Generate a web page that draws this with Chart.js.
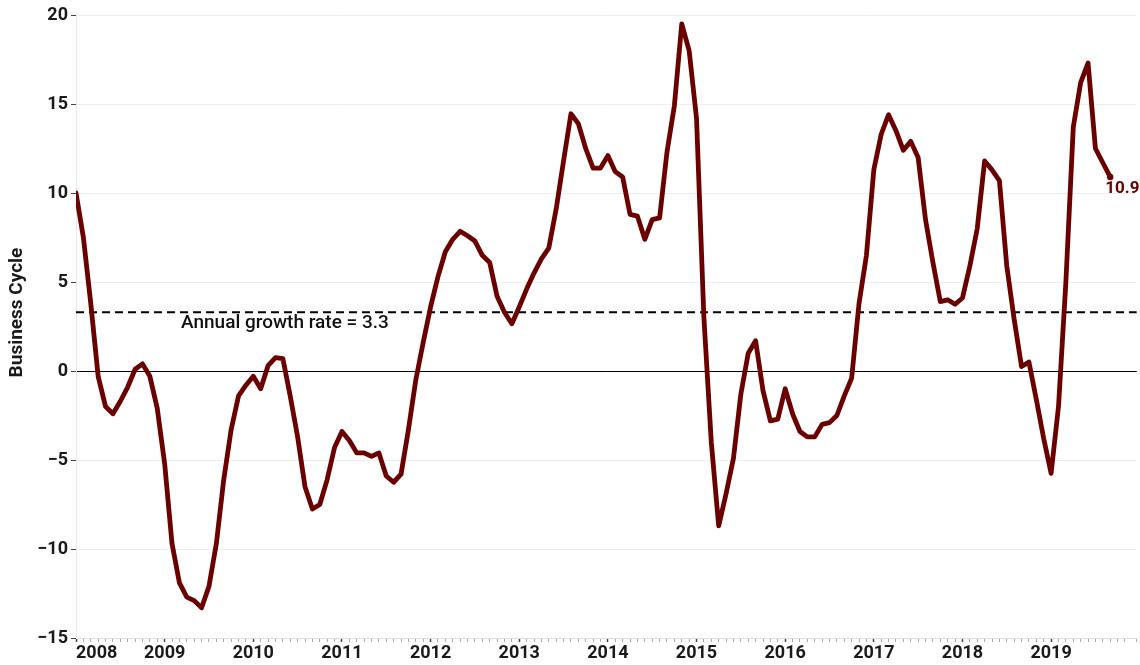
<!DOCTYPE html>
<html>
<head>
<meta charset="utf-8">
<script src="https://cdn.jsdelivr.net/npm/chart.js@4.4.1/dist/chart.umd.min.js"></script>
<style>
  html, body { margin: 0; padding: 0; background: #ffffff; }
  #wrap { width: 1140px; height: 665px; }
</style>
</head>
<body>
<div id="wrap"><canvas id="c" width="1140" height="665"></canvas></div>
<script>
// ---- data ----
const yearLabels = ['2008','2009','2010','2011','2012','2013','2014','2015','2016','2017','2018','2019'];
const cycleValues = [
  10.0, 7.5, 3.8, -0.3, -2.0, -2.4, -1.7, -0.9, 0.1, 0.4, -0.3, -2.1,          // 2008
  -5.2, -9.7, -11.9, -12.7, -12.9, -13.3, -12.1, -9.7, -6.1, -3.3, -1.4, -0.8, // 2009
  -0.3, -1.0, 0.3, 0.75, 0.7, -1.4, -3.7, -6.5, -7.75, -7.5, -6.1, -4.3,       // 2010
  -3.4, -3.9, -4.6, -4.6, -4.8, -4.6, -5.9, -6.25, -5.8, -3.3, -0.5, 1.6,      // 2011
  3.6, 5.3, 6.7, 7.4, 7.85, 7.6, 7.3, 6.5, 6.1, 4.2, 3.3, 2.65,                // 2012
  3.6, 4.6, 5.5, 6.3, 6.9, 9.1, 11.8, 14.45, 13.9, 12.5, 11.4, 11.4,           // 2013
  12.1, 11.2, 10.9, 8.8, 8.7, 7.4, 8.5, 8.6, 12.3, 14.9, 19.5, 18.0,           // 2014
  14.2, 3.0, -4.0, -8.7, -6.9, -4.9, -1.3, 1.0, 1.7, -1.1, -2.8, -2.7,         // 2015
  -1.0, -2.4, -3.4, -3.7, -3.7, -3.0, -2.9, -2.5, -1.4, -0.4, 3.8, 6.5,        // 2016
  11.3, 13.3, 14.4, 13.5, 12.4, 12.9, 12.0, 8.5, 6.1, 3.9, 4.0, 3.75,          // 2017
  4.1, 5.9, 8.0, 11.8, 11.3, 10.7, 5.9, 2.9, 0.25, 0.5, -1.6, -3.8,            // 2018
  -5.75, -2.0, 5.0, 13.7, 16.2, 17.3, 12.5, 11.7, 10.9                         // 2019
];
const growthRate = 3.3;
const growthLabel = 'Annual growth rate = 3.3';
const yAxisTitle = 'Business Cycle';
const yMin = -15, yMax = 20, yStep = 5;
const monthsPerYear = 12;
const xMaxMonths = 143.6;

// ---- styles ----
const lineColor = '#6b0000';
const fontFamily = 'Roboto, "DejaVu Sans", sans-serif';
const tickFont = { family: fontFamily, size: 18, weight: 'bold' };

const seriesPoints = cycleValues.map((v, i) => ({ x: i, y: v }));
const growthPoints = [{ x: 0, y: growthRate }, { x: xMaxMonths, y: growthRate }];

const textPlugin = {
  id: 'textPlugin',
  afterDatasetsDraw(chart) {
    const { ctx, chartArea, scales } = chart;
    const y = scales.y;
    ctx.save();
    ctx.textAlign = 'left';
    ctx.textBaseline = 'top';
    ctx.fillStyle = '#111111';
    ctx.font = '500 19px ' + fontFamily;
    ctx.fillText(growthLabel, chartArea.left + 105, y.getPixelForValue(growthRate) + 1);
    const meta = chart.getDatasetMeta(0);
    const pt = meta.data[meta.data.length - 1];
    ctx.fillStyle = lineColor;
    ctx.font = 'bold 17px ' + fontFamily;
    ctx.fillText(cycleValues[cycleValues.length - 1].toFixed(1), pt.x - 5, pt.y + 3);
    // y axis title
    ctx.translate(17, (chartArea.top + chartArea.bottom) / 2 - 14);
    ctx.rotate(-Math.PI / 2);
    ctx.textAlign = 'center';
    ctx.textBaseline = 'middle';
    ctx.fillStyle = '#1a1a1a';
    ctx.font = 'bold 19px ' + fontFamily;
    ctx.fillText(yAxisTitle, 0, 0);
    ctx.restore();
  }
};

new Chart(document.getElementById('c'), {
  type: 'line',
  data: {
    datasets: [
      {
        data: seriesPoints,
        borderColor: lineColor,
        backgroundColor: lineColor,
        borderWidth: 4.8,
        tension: 0,
        borderJoinStyle: 'round',
        borderCapStyle: 'round',
        pointRadius: (c) => c.dataIndex === cycleValues.length - 1 ? 3.2 : 0,
        pointBorderWidth: 0,
        pointHoverRadius: 0,
        order: 0
      },
      {
        data: growthPoints,
        borderColor: '#000000',
        borderWidth: 2,
        borderDash: [8, 5],
        pointRadius: 0,
        order: 1
      }
    ]
  },
  options: {
    responsive: false,
    animation: false,
    devicePixelRatio: 1,
    layout: { padding: { top: 15, right: 0, left: 0, bottom: 0 } },
    plugins: { legend: { display: false }, tooltip: { enabled: false } },
    scales: {
      x: {
        type: 'linear',
        min: 0,
        max: xMaxMonths,
        afterFit: (s) => { s.height = 27; s.paddingRight = 0; },
        border: { color: '#dddddd', width: 1 },
        grid: {
          drawOnChartArea: false,
          tickLength: 4,
          tickColor: (c) => (c.tick && Number.isInteger(c.tick.value) && c.tick.value % monthsPerYear === 0) ? '#444444' : '#aaaaaa',
          tickWidth: (c) => (c.tick && Number.isInteger(c.tick.value) && c.tick.value % monthsPerYear === 0) ? 1.5 : 1
        },
        ticks: {
          stepSize: 1,
          autoSkip: false,
          maxRotation: 0,
          minRotation: 0,
          align: 'inner',
          padding: 1,
          color: '#1a1a1a',
          font: tickFont,
          callback: (v) => (Number.isInteger(v) && v % monthsPerYear === 0) ? yearLabels[v / monthsPerYear] : ''
        }
      },
      y: {
        min: yMin,
        max: yMax,
        afterFit: (s) => { s.width = 76; },
        border: { color: '#e8e8e8', width: 1 },
        grid: {
          color: (c) => (c.tick && c.tick.value === 0) ? '#000000' : '#eeeeee',
          lineWidth: 1,
          tickLength: 5,
          tickColor: '#444444'
        },
        ticks: {
          stepSize: yStep,
          padding: 3,
          color: '#1a1a1a',
          font: tickFont,
          callback: (v) => String(v).replace('-', '\u2212')
        },
        title: { display: false }
      }
    }
  },
  plugins: [textPlugin]
});
</script>
</body>
</html>
